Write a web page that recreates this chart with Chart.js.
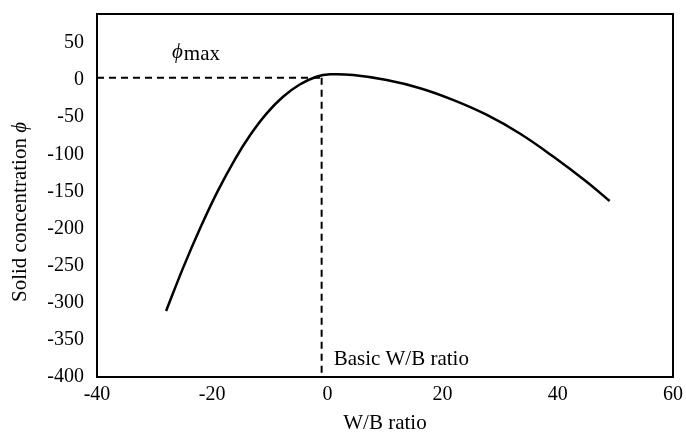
<!DOCTYPE html>
<html>
<head>
<meta charset="utf-8">
<script src="https://cdn.jsdelivr.net/npm/chart.js@4"></script>
<style>
  html, body { margin: 0; padding: 0; background: #fff; }
  #wrap { width: 686px; height: 432px; }
</style>
</head>
<body>
<div id="wrap"><canvas id="chart" width="686" height="432"></canvas></div>
<script>
// curve
const wbRatio = [-28, -25, -22, -19, -16, -13.4, -10.5, -7.7, -4.8, -1.9, 0.5, 4.5, 10.3, 16.1, 21.9, 27.7, 33.4, 39.2, 45, 49];
const solidConc = [-311, -252, -198, -149, -106, -74, -44.5, -22.5, -6, 4.5, 7.7, 6.7, 0, -11, -27, -47, -72, -103, -137, -163];

// guide lines
const phiMax = 3;
const basicWB = -1;
const xMin = -40, xMax = 60, xStep = 20;
const yMin = -400, yMax = 89, yStep = 50;

const serif = '"Liberation Serif", "DejaVu Serif", serif';

const curve = wbRatio.map((x, i) => ({ x: x, y: solidConc[i] }));
const hDash = [{ x: xMin, y: phiMax }, { x: basicWB, y: phiMax }];
const vDash = [{ x: basicWB, y: phiMax }, { x: basicWB, y: yMin }];

// frame + labels
const extras = {
  id: 'extras',
  afterDraw(chart) {
    const ctx = chart.ctx;
    const a = chart.chartArea;
    const xs = chart.scales.x;
    ctx.save();
    ctx.strokeStyle = '#000';
    ctx.lineWidth = 2;
    ctx.strokeRect(a.left, a.top, a.right - a.left, a.bottom - a.top);

    ctx.fillStyle = '#000';
    ctx.textBaseline = 'middle';

    // phi max label
    ctx.font = 'italic 21px ' + serif;
    ctx.textAlign = 'left';
    const px = 172, py = 52;
    ctx.fillText('ϕ', px, py);
    const pw = ctx.measureText('ϕ').width;
    ctx.font = '21px ' + serif;
    ctx.fillText('max', px + pw + 1, py + 2);

    // basic W/B label
    ctx.font = '21px ' + serif;
    ctx.fillText('Basic W/B ratio', xs.getPixelForValue(basicWB) + 12, 359);

    // x title
    ctx.textAlign = 'center';
    ctx.fillText('W/B ratio', (a.left + a.right) / 2, 423);

    // y title
    ctx.translate(20, 212);
    ctx.rotate(-Math.PI / 2);
    ctx.font = '21px ' + serif;
    const t1 = 'Solid concentration ';
    const w1 = ctx.measureText(t1).width;
    ctx.font = 'italic 21px ' + serif;
    const w2 = ctx.measureText('ϕ').width;
    const start = -(w1 + w2) / 2;
    ctx.textAlign = 'left';
    ctx.font = '21px ' + serif;
    ctx.fillText(t1, start, 0);
    ctx.font = 'italic 21px ' + serif;
    ctx.fillText('ϕ', start + w1, 0);
    ctx.restore();
  }
};

new Chart(document.getElementById('chart'), {
  type: 'scatter',
  data: {
    datasets: [
      {
        data: curve,
        showLine: true,
        borderColor: '#000',
        borderWidth: 2.5,
        pointRadius: 0,
        tension: 0.4,
        fill: false
      },
      {
        data: hDash,
        showLine: true,
        borderColor: '#000',
        borderWidth: 2,
        borderDash: [7, 5],
        pointRadius: 0
      },
      {
        data: vDash,
        showLine: true,
        borderColor: '#000',
        borderWidth: 2,
        borderDash: [7, 5],
        pointRadius: 0
      }
    ]
  },
  options: {
    responsive: false,
    animation: false,
    layout: { padding: { left: 0, right: 13, top: 14, bottom: 0 } },
    plugins: {
      legend: { display: false },
      tooltip: { enabled: false }
    },
    scales: {
      x: {
        type: 'linear',
        min: xMin,
        max: xMax,
        grid: { display: false, drawTicks: false },
        border: { display: false },
        ticks: {
          stepSize: xStep,
          color: '#000',
          padding: 6,
          font: { family: serif, size: 20 }
        },
        afterFit(scale) {
          scale.height = 55;
          scale.paddingLeft = 0;
          scale.paddingRight = 0;
        }
      },
      y: {
        type: 'linear',
        min: yMin,
        max: yMax,
        grid: { display: false, drawTicks: false },
        border: { display: false },
        ticks: {
          stepSize: yStep,
          color: '#000',
          padding: 13,
          font: { family: serif, size: 20 }
        },
        afterBuildTicks(scale) {
          scale.ticks = scale.ticks.filter(t => t.value % yStep === 0);
        },
        afterFit(scale) {
          scale.width = 97;
          scale.paddingTop = 0;
          scale.paddingBottom = 0;
        }
      }
    }
  },
  plugins: [extras]
});
</script>
</body>
</html>
